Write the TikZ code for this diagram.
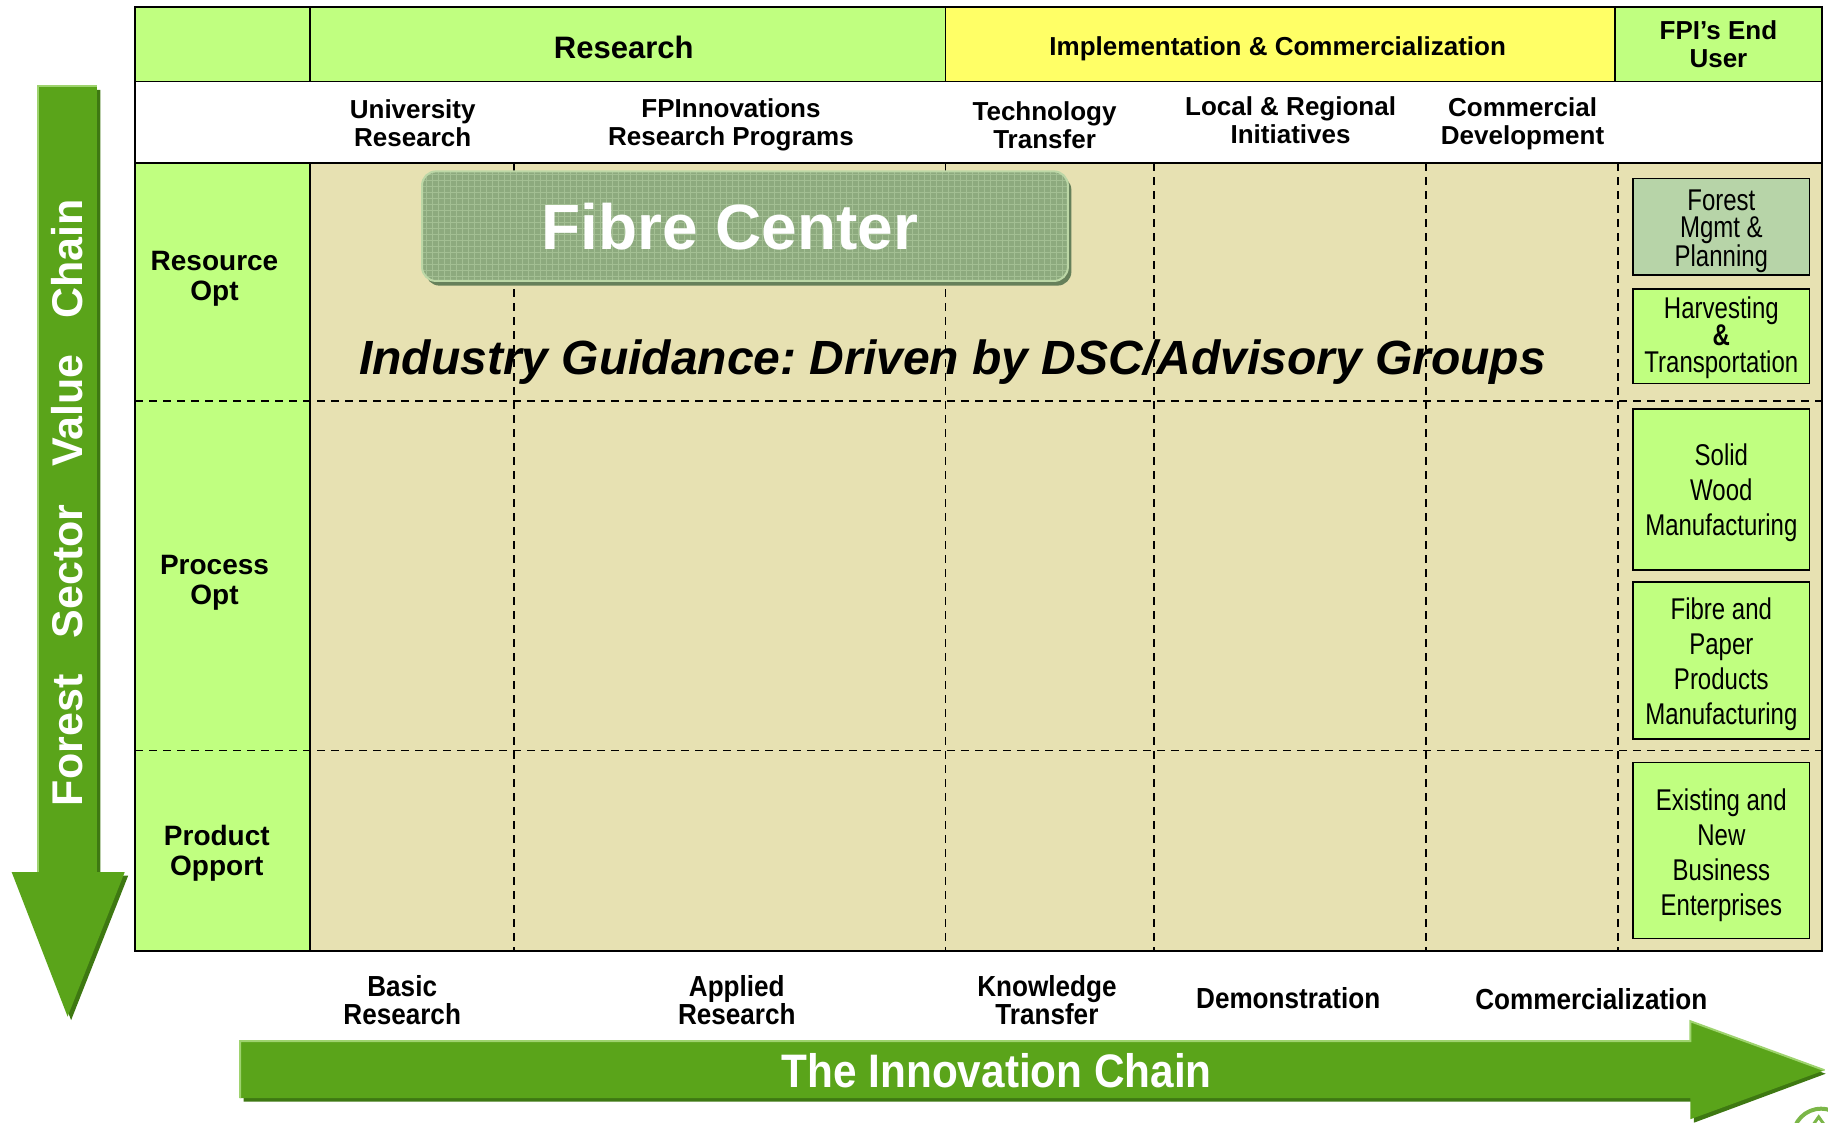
\documentclass[tikz,border=0pt]{standalone}
\usepackage{fontspec}
\setmainfont{Liberation Sans}
\newfontfamily\narrowfont[FakeStretch=0.8]{Liberation Sans}
\newfontfamily\semifont[FakeStretch=0.9]{Liberation Sans}
\definecolor{lgreen}{HTML}{C0FF80}
\definecolor{hyellow}{HTML}{FFFF66}
\definecolor{tan}{HTML}{E7E1B2}
\definecolor{agreen}{HTML}{5AA41A}
\definecolor{ashadow}{HTML}{3E7812}
\definecolor{alight}{HTML}{9ED36E}
\definecolor{fgreen}{HTML}{B7D4A8}
\definecolor{fibre}{HTML}{8DAA7E}
\definecolor{fibregrid}{HTML}{A3BF93}
\definecolor{fibreshadow}{HTML}{66805A}
\definecolor{fibreedge}{HTML}{BCD7A6}
\tikzset{
  tline/.style={line width=1.7pt,black},
  dline/.style={line width=1.4pt,black,dash pattern=on 8pt off 6pt},
  hdrA/.style={font=\bfseries\fontsize{31}{34}\selectfont,inner sep=0pt},
  hdrB/.style={font=\bfseries\fontsize{26}{28}\selectfont,inner sep=0pt,align=center},
  rowlbl/.style={font=\bfseries\fontsize{28}{30}\selectfont,inner sep=0pt,align=center},
  botlbl/.style={font=\bfseries\semifont\fontsize{29}{28}\selectfont,inner sep=0pt,align=center},
  userbox/.style={draw=black,line width=1.7pt,fill=lgreen,inner sep=0pt,minimum width=151*1.16582pt},
  usertext/.style={inner sep=0pt,align=center,font=\narrowfont\fontsize{30}{35}\selectfont},
  vword/.style={rotate=90,text=white,font=\bfseries\fontsize{43}{43}\selectfont,inner sep=0pt},
}
\begin{document}
\frenchspacing
\begin{tikzpicture}[x=1.16582pt,y=-1.16582pt]
\useasboundingbox (0,0) rectangle (1568,963);
% ---------- table backgrounds ----------
\fill[lgreen] (116,6) rectangle (811,70);
\fill[hyellow] (811,6) rectangle (1385,70);
\fill[lgreen] (1385,6) rectangle (1563,70);
\fill[white] (116,70) rectangle (1563,140);
\fill[lgreen] (116,140) rectangle (266,816);
\fill[tan] (266,140) rectangle (1563,816);
% ---------- dashed grid ----------
\foreach \xx in {441,811,990,1223,1388}
  \draw[dline] (\xx,140) -- (\xx,816);
\draw[dline] (116,344) -- (1568,344);
\draw[dline] (116,644) -- (1568,644);
% ---------- solid table lines ----------
\draw[tline] (116,6) rectangle (1563,816);
\draw[tline] (116,70) -- (1563,70);
\draw[tline] (116,140) -- (1563,140);
\draw[tline] (266,6) -- (266,70);
\draw[tline] (266,140) -- (266,816);
\draw[tline] (811,6) -- (811,70);
\draw[tline] (1385,6) -- (1385,70);
% ---------- header texts ----------
\node[hdrA] (hres) at (535,41) {Research};
\node[hdrB] (himp) at (1096,42) {Implementation \& Commercialization};
\node[hdrB] (hfpi) at (1474,38) {FPI’s End\\User};
\node[hdrB] (huni) at (354,106) {University\\Research};
\node[hdrB] (hfpinn) at (627,107) {FPInnovations\\Research Programs};
\node[hdrB] (htech) at (896,107) {Technology\\Transfer};
\node[hdrB] (hlocal) at (1107,103) {Local \& Regional\\Initiatives};
\node[hdrB] (hcomm) at (1306,106) {Commercial\\Development};
% ---------- row labels ----------
\node[rowlbl] (rres) at (184,239) {Resource\\Opt};
\node[rowlbl] (rproc) at (184,500) {Process\\Opt};
\node[rowlbl] (rprod) at (186,732) {Product\\Opport};
% ---------- Fibre Center ----------
\fill[fibreshadow, rounded corners=14pt] (365,151) rectangle (919,245);
\begin{scope}
  \clip[rounded corners=14pt] (362,147) rectangle (916,241);
  \fill[fibre] (362,147) rectangle (916,241);
  \draw[fibregrid,line width=0.6pt,step=6pt] (362,147) grid (916,241);
\end{scope}
\draw[fibreedge,line width=2pt,rounded corners=14pt] (362,147) rectangle (916,241);
\node[text=white,font=\bfseries\fontsize{64}{64}\selectfont,inner sep=0pt] (fibre) at (626,194) {Fibre Center};
% ---------- Industry guidance ----------
\node[font=\bfseries\itshape\fontsize{48}{48}\selectfont,inner sep=0pt,anchor=base] (guide) at (817,321) {Industry Guidance: Driven by DSC/Advisory Groups};
% ---------- End-user boxes ----------
\node[userbox,fill=fgreen,minimum height=83*1.16582pt] (uforest) at (1476.5,194.5) {};
\node[usertext,font=\narrowfont\fontsize{30}{27}\selectfont] (tforest) at (1476.5,198) {Forest\\Mgmt \&\\Planning};
\node[userbox,minimum height=81*1.16582pt] (uharv) at (1476.5,288.5) {};
\node[usertext,font=\narrowfont\fontsize{30}{27}\selectfont] (tharv) at (1476.5,289.5) {Harvesting\\\textbf{\&}\\Transportation};
\node[userbox,minimum height=138*1.16582pt] (usolid) at (1476.5,420) {};
\node[usertext] (tsolid) at (1476.5,422.5) {Solid\\Wood\\Manufacturing};
\node[userbox,minimum height=135*1.16582pt] (ufibre) at (1476.5,566.5) {};
\node[usertext] (tfibre) at (1476.5,569.5) {Fibre and\\Paper\\Products\\Manufacturing};
\node[userbox,minimum height=151*1.16582pt] (uexist) at (1476.5,729.5) {};
\node[usertext] (texist) at (1476.5,733.5) {Existing and\\New\\Business\\Enterprises};
% ---------- bottom labels ----------
\node[botlbl] (bbasic) at (345,858) {Basic\\Research};
\node[botlbl] (bapplied) at (632,858) {Applied\\Research};
\node[botlbl] (bknow) at (898,858) {Knowledge\\Transfer};
\node[botlbl] (bdemo) at (1105,856) {Demonstration};
\node[botlbl] (bcomm) at (1365,857) {Commercialization};
% ---------- vertical arrow ----------
\fill[ashadow] (36,77) -- (86,77) -- (86,751) -- (110,751) -- (61,875) -- (13,751) -- (36,751) -- cycle;
\fill[agreen] (33,74) -- (83,74) -- (83,748) -- (107,748) -- (58,872) -- (10,748) -- (33,748) -- cycle;
\draw[alight,line width=2pt] (33,748) -- (33,74) -- (83,74);
\node[vword] (vforest) at (58,635) {Forest};
\node[vword] (vsector) at (58,490) {Sector};
\node[vword] (vvalue) at (58,352) {Value};
\node[vword] (vchain) at (58,222) {Chain};
% ---------- horizontal arrow ----------
\fill[ashadow] (209,896) -- (1453,896) -- (1453,879) -- (1566,921) -- (1453,963) -- (1453,945) -- (209,945) -- cycle;
\fill[agreen] (206,893) -- (1450,893) -- (1450,876) -- (1565,918) -- (1450,960) -- (1450,942) -- (206,942) -- cycle;
\draw[alight,line width=2pt] (206,942) -- (206,893) -- (1450,893) -- (1450,876) -- (1565,918);
\node[text=white,font=\bfseries\semifont\fontsize{47}{47}\selectfont,inner sep=0pt] (innov) at (855,918) {The Innovation Chain};
% ---------- logo fragment ----------
\draw[agreen!80,line width=4pt] (1562,975) circle[radius=24];
\draw[agreen!80,line width=3pt] (1548,975) -- (1560,958) -- (1572,975);
\end{tikzpicture}
\end{document}
